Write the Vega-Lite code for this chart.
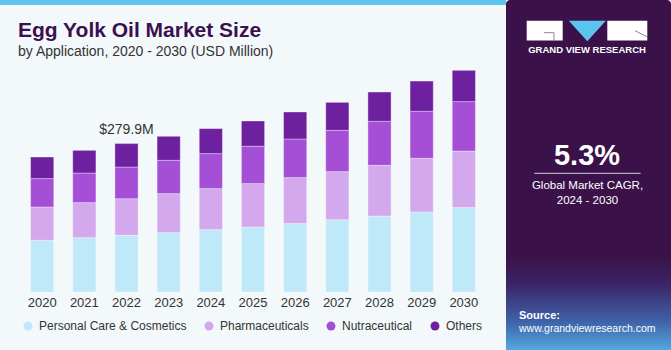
{
  "$schema": "https://vega.github.io/schema/vega-lite/v6.json",
  "padding": 0,
  "background": "#f3f8fb",
  "spacing": 0,
  "config": {"view": {"stroke": null}, "font": "Liberation Sans"},
  "datasets": {
    "market": [
      {"year": "2020", "application": "Personal Care & Cosmetics", "value": 97.5},
      {"year": "2020", "application": "Pharmaceuticals", "value": 62.8},
      {"year": "2020", "application": "Nutraceutical", "value": 53.6},
      {"year": "2020", "application": "Others", "value": 40.7},
      {"year": "2021", "application": "Personal Care & Cosmetics", "value": 102.6},
      {"year": "2021", "application": "Pharmaceuticals", "value": 66.0},
      {"year": "2021", "application": "Nutraceutical", "value": 55.8},
      {"year": "2021", "application": "Others", "value": 42.8},
      {"year": "2022", "application": "Personal Care & Cosmetics", "value": 106.9},
      {"year": "2022", "application": "Pharmaceuticals", "value": 69.2},
      {"year": "2022", "application": "Nutraceutical", "value": 59.6},
      {"year": "2022", "application": "Others", "value": 44.2},
      {"year": "2023", "application": "Personal Care & Cosmetics", "value": 112.0},
      {"year": "2023", "application": "Pharmaceuticals", "value": 73.6},
      {"year": "2023", "application": "Nutraceutical", "value": 62.8},
      {"year": "2023", "application": "Others", "value": 45.3},
      {"year": "2024", "application": "Personal Care & Cosmetics", "value": 117.7},
      {"year": "2024", "application": "Pharmaceuticals", "value": 77.3},
      {"year": "2024", "application": "Nutraceutical", "value": 66.0},
      {"year": "2024", "application": "Others", "value": 47.2},
      {"year": "2025", "application": "Personal Care & Cosmetics", "value": 122.6},
      {"year": "2025", "application": "Pharmaceuticals", "value": 81.9},
      {"year": "2025", "application": "Nutraceutical", "value": 70.4},
      {"year": "2025", "application": "Others", "value": 47.7},
      {"year": "2026", "application": "Personal Care & Cosmetics", "value": 129.0},
      {"year": "2026", "application": "Pharmaceuticals", "value": 86.8},
      {"year": "2026", "application": "Nutraceutical", "value": 72.8},
      {"year": "2026", "application": "Others", "value": 50.9},
      {"year": "2027", "application": "Personal Care & Cosmetics", "value": 136.5},
      {"year": "2027", "application": "Pharmaceuticals", "value": 90.5},
      {"year": "2027", "application": "Nutraceutical", "value": 77.9},
      {"year": "2027", "application": "Others", "value": 52.8},
      {"year": "2028", "application": "Personal Care & Cosmetics", "value": 143.3},
      {"year": "2028", "application": "Pharmaceuticals", "value": 95.6},
      {"year": "2028", "application": "Nutraceutical", "value": 83.0},
      {"year": "2028", "application": "Others", "value": 55.3},
      {"year": "2029", "application": "Personal Care & Cosmetics", "value": 150.9},
      {"year": "2029", "application": "Pharmaceuticals", "value": 101.3},
      {"year": "2029", "application": "Nutraceutical", "value": 88.6},
      {"year": "2029", "application": "Others", "value": 57.1},
      {"year": "2030", "application": "Personal Care & Cosmetics", "value": 159.2},
      {"year": "2030", "application": "Pharmaceuticals", "value": 106.7},
      {"year": "2030", "application": "Nutraceutical", "value": 93.2},
      {"year": "2030", "application": "Others", "value": 59.0}
    ],
    "stackorder": [
      {"application": "Personal Care & Cosmetics", "rank": 1},
      {"application": "Pharmaceuticals", "rank": 2},
      {"application": "Nutraceutical", "rank": 3},
      {"application": "Others", "rank": 4}
    ],
    "callout": [{"year": "2022", "total": 279.9, "label": "$279.9M"}],
    "panel": [{"cagr": "5.3%", "caption": "Global Market CAGR,", "period": "2024 - 2030", "brand": "GRAND VIEW RESEARCH", "source": "Source:", "site": "www.grandviewresearch.com"}]
  },
  "hconcat": [
    {
      "spacing": 15,
      "vconcat": [
        {
          "width": 506,
          "height": 5,
          "data": {"name": "callout"},
          "view": {"fill": "#5bc5ee", "stroke": null},
          "mark": {"type": "rect", "opacity": 0},
          "encoding": {}
        },
        {
          "width": 506,
          "height": 232,
          "title": {
            "text": "Egg Yolk Oil Market Size",
            "subtitle": "by Application, 2020 - 2030 (USD Million)",
            "anchor": "start",
            "dx": 18,
            "font": "Liberation Sans",
            "fontSize": 21,
            "fontWeight": "bold",
            "color": "#3b1050",
            "subtitleFont": "Liberation Sans",
            "subtitleFontSize": 14,
            "subtitleColor": "#333333",
            "subtitlePadding": 4,
            "offset": 1
          },
          "layer": [
            {
              "data": {"name": "market"},
              "transform": [
                {"lookup": "application", "from": {"data": {"name": "stackorder"}, "key": "application", "fields": ["rank"]}}
              ],
              "mark": {"type": "bar", "stroke": "#ffffff", "strokeOpacity": 0.35, "strokeWidth": 1},
              "encoding": {
                "x": {
                  "field": "year", "type": "ordinal",
                  "scale": {"paddingInner": 0.45, "paddingOuter": 0.725},
                  "axis": {"title": null, "domain": false, "ticks": false, "labelAngle": 0, "labelFontSize": 13, "labelColor": "#333333", "labelPadding": 4, "labelFont": "Liberation Sans"}
                },
                "y": {
                  "field": "value", "type": "quantitative", "stack": "zero",
                  "scale": {"domain": [0, 437.6], "nice": false},
                  "axis": null
                },
                "color": {
                  "field": "application", "type": "nominal",
                  "sort": ["Personal Care & Cosmetics", "Pharmaceuticals", "Nutraceutical", "Others"],
                  "scale": {
                    "domain": ["Personal Care & Cosmetics", "Pharmaceuticals", "Nutraceutical", "Others"],
                    "range": ["#bfe9f9", "#d4a8ec", "#a44fd6", "#6e219e"]
                  },
                  "legend": {
                    "title": null, "orient": "none", "direction": "horizontal",
                    "legendX": 22, "legendY": 320,
                    "symbolType": "circle", "symbolSize": 80, "symbolStrokeWidth": 0,
                    "labelFontSize": 12, "labelColor": "#333333", "labelFont": "Liberation Sans",
                    "labelOffset": 5, "columnPadding": 16
                  }
                },
                "order": {"field": "rank", "type": "quantitative", "sort": "ascending"}
              }
            },
            {
              "data": {"name": "callout"},
              "mark": {"type": "text", "baseline": "bottom", "dy": -7, "fontSize": 14, "color": "#333333", "font": "Liberation Sans"},
              "encoding": {
                "x": {"field": "year", "type": "ordinal"},
                "y": {"field": "total", "type": "quantitative"},
                "text": {"field": "label"}
              }
            }
          ]
        }
      ]
    },
    {
      "width": 165,
      "height": 350,
      "data": {"name": "panel"},
      "view": {"fill": "#3a1249", "stroke": null, "cornerRadius": 4},
      "encoding": {
        "x": {"type": "quantitative", "scale": {"domain": [0, 165], "nice": false, "zero": false}, "axis": null},
        "y": {"type": "quantitative", "scale": {"domain": [0, 350], "reverse": true, "nice": false, "zero": false}, "axis": null}
      },
      "layer": [
        {
          "mark": {"type": "rect", "color": {"gradient": "linear", "x1": 0, "y1": 0, "x2": 0, "y2": 1, "stops": [{"offset": 0, "color": "#3a1249"}, {"offset": 0.3, "color": "#3b2466"}, {"offset": 0.7, "color": "#3f62a8"}, {"offset": 1, "color": "#52a8e0"}]}},
          "encoding": {"x": {"datum": 0, "type": "quantitative"}, "x2": {"datum": 165}, "y": {"datum": 255, "type": "quantitative"}, "y2": {"datum": 350}}
        },
        {
          "mark": {"type": "rect", "color": "#ffffff"},
          "encoding": {"x": {"datum": 20.7, "type": "quantitative"}, "x2": {"datum": 56.7}, "y": {"datum": 20.7, "type": "quantitative"}, "y2": {"datum": 40.5}}
        },
        {
          "mark": {"type": "rect", "color": "#ffffff"},
          "encoding": {"x": {"datum": 101.3, "type": "quantitative"}, "x2": {"datum": 141.3}, "y": {"datum": 20.7, "type": "quantitative"}, "y2": {"datum": 40.5}}
        },
        {
          "mark": {"type": "rule", "color": "#8a8a9a", "strokeWidth": 1},
          "encoding": {"x": {"datum": 38, "type": "quantitative"}, "x2": {"datum": 48}, "y": {"datum": 32.7, "type": "quantitative"}, "y2": {"datum": 32.7}}
        },
        {
          "mark": {"type": "rule", "color": "#8a8a9a", "strokeWidth": 1},
          "encoding": {"x": {"datum": 48, "type": "quantitative"}, "x2": {"datum": 48}, "y": {"datum": 32.7, "type": "quantitative"}, "y2": {"datum": 40.5}}
        },
        {
          "mark": {"type": "rule", "color": "#8a8a9a", "strokeWidth": 1},
          "encoding": {"x": {"datum": 129, "type": "quantitative"}, "x2": {"datum": 141}, "y": {"datum": 30.7, "type": "quantitative"}, "y2": {"datum": 36.7}}
        },
        {
          "mark": {"type": "point", "shape": "M-1,-0.55L1,-0.55L0,0.55Z", "filled": true, "size": 1369, "color": "#5bc5f0", "opacity": 1, "strokeWidth": 0},
          "encoding": {"x": {"datum": 81.3, "type": "quantitative"}, "y": {"datum": 31, "type": "quantitative"}}
        },
        {
          "mark": {"type": "text", "align": "center", "baseline": "alphabetic", "fontSize": 9.5, "fontWeight": "bold", "color": "#ffffff"},
          "encoding": {"x": {"datum": 81, "type": "quantitative"}, "y": {"datum": 52.7, "type": "quantitative"}, "text": {"field": "brand"}}
        },
        {
          "mark": {"type": "text", "align": "center", "baseline": "alphabetic", "fontSize": 29, "fontWeight": "bold", "color": "#ffffff"},
          "encoding": {"x": {"datum": 81, "type": "quantitative"}, "y": {"datum": 165, "type": "quantitative"}, "text": {"field": "cagr"}}
        },
        {
          "mark": {"type": "rule", "color": "#d8d0e0", "strokeWidth": 1},
          "encoding": {"x": {"datum": 28.3, "type": "quantitative"}, "x2": {"datum": 134.7}, "y": {"datum": 173.3, "type": "quantitative"}, "y2": {"datum": 173.3}}
        },
        {
          "mark": {"type": "text", "align": "center", "baseline": "alphabetic", "fontSize": 11.5, "color": "#ffffff"},
          "encoding": {"x": {"datum": 81.5, "type": "quantitative"}, "y": {"datum": 189.3, "type": "quantitative"}, "text": {"field": "caption"}}
        },
        {
          "mark": {"type": "text", "align": "center", "baseline": "alphabetic", "fontSize": 11.5, "color": "#ffffff"},
          "encoding": {"x": {"datum": 81.5, "type": "quantitative"}, "y": {"datum": 204, "type": "quantitative"}, "text": {"field": "period"}}
        },
        {
          "mark": {"type": "text", "align": "left", "baseline": "alphabetic", "fontSize": 11, "fontWeight": "bold", "color": "#ffffff"},
          "encoding": {"x": {"datum": 13, "type": "quantitative"}, "y": {"datum": 319.3, "type": "quantitative"}, "text": {"field": "source"}}
        },
        {
          "mark": {"type": "text", "align": "left", "baseline": "alphabetic", "fontSize": 10.5, "color": "#ffffff"},
          "encoding": {"x": {"datum": 13, "type": "quantitative"}, "y": {"datum": 332, "type": "quantitative"}, "text": {"field": "site"}}
        }
      ]
    }
  ]
}
